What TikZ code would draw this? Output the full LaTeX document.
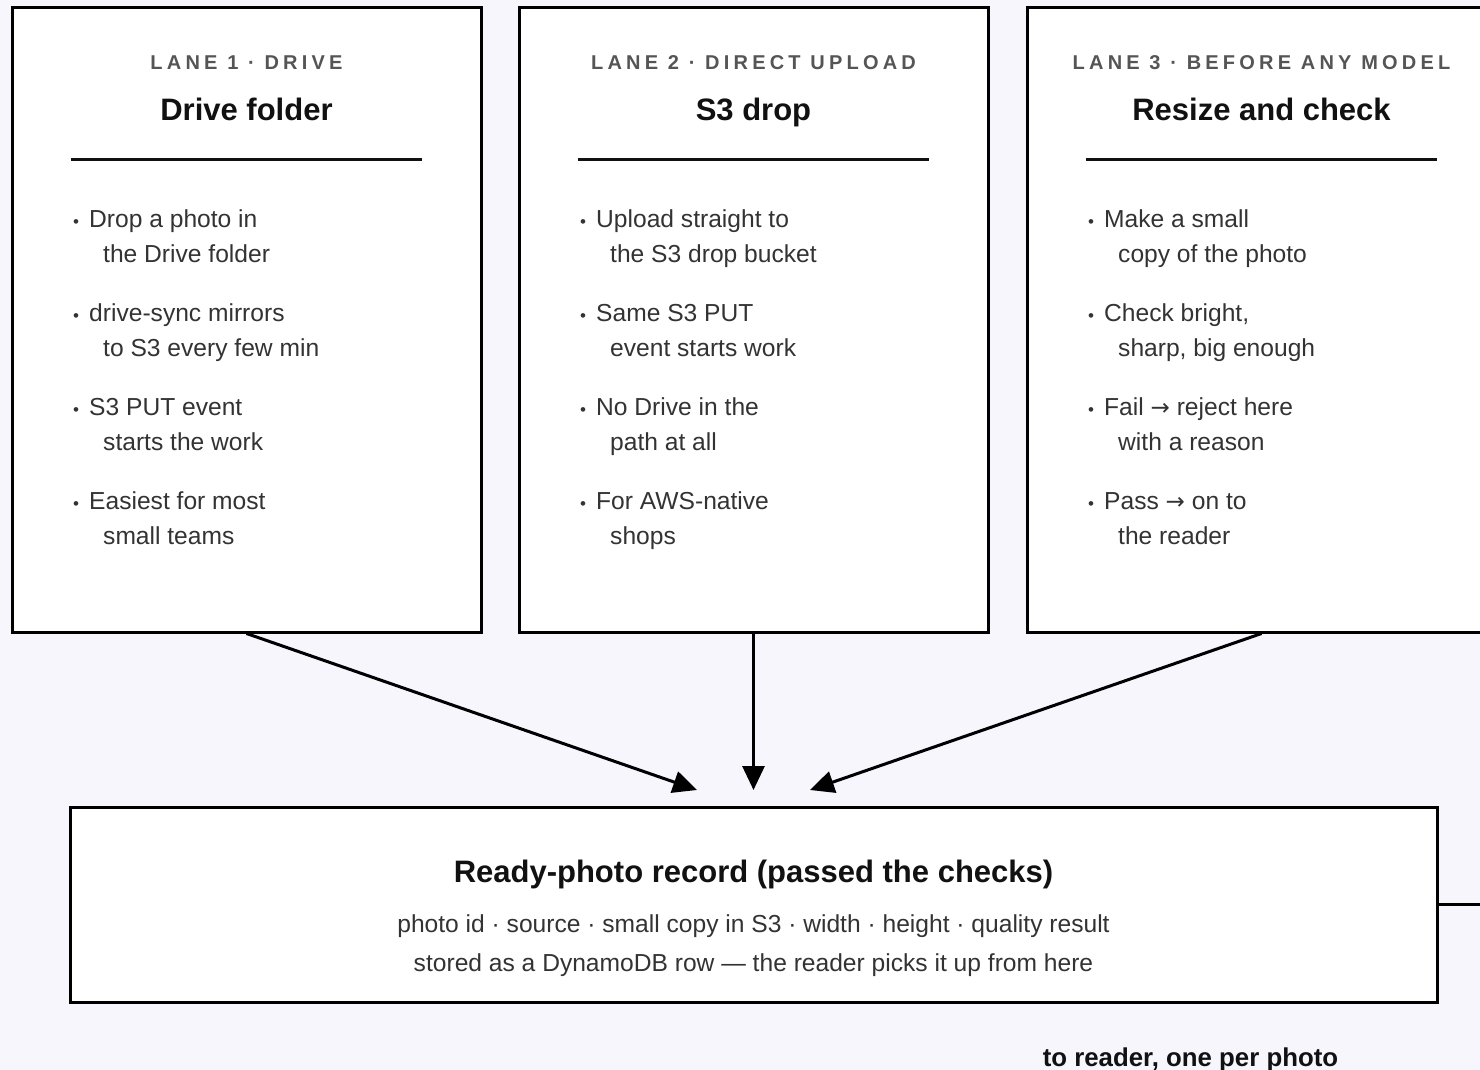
\documentclass[tikz,border=0pt]{standalone}
\usepackage{fontspec}
\setmainfont{Liberation Sans}
\newfontfamily\arrowfont{DejaVu Sans}
\newfontfamily\lanefont[LetterSpace=21]{Liberation Sans}
\usetikzlibrary{arrows.meta}
\definecolor{paper}{HTML}{F7F6FD}
\definecolor{lanegrey}{HTML}{555555}
\definecolor{bodytext}{HTML}{333333}
\definecolor{inktext}{HTML}{111111}
\newcommand\lanecap[1]{{\lanefont\bfseries\fontsize{20}{24}\selectfont #1}}
\newcommand\passarrow{{\arrowfont\fontsize{23}{28}\selectfont →}}

\begin{document}
\begin{tikzpicture}[x=1pt,y=-1pt,
	lane/.style={draw=black,line width=3pt,fill=white,minimum width=469pt,minimum height=624pt,inner sep=0pt},
	ready/.style={draw=black,line width=3pt,fill=white,minimum width=1367pt,minimum height=195pt,inner sep=0pt},
	head/.style={anchor=base,inner sep=0pt,text=lanegrey},
	ttl/.style={anchor=base,inner sep=0pt,text=inktext,font=\bfseries\fontsize{31}{36}\selectfont},
	bul/.style={anchor=base,inner sep=0pt,text=bodytext,font=\fontsize{17}{24}\selectfont},
	itm/.style={anchor=base west,inner sep=0pt,text=bodytext,font=\fontsize{24.6}{28}\selectfont},
	rec/.style={anchor=base,inner sep=0pt,text=bodytext,font=\fontsize{24.6}{28}\selectfont},
	rule/.style={line width=3pt,draw=inktext},
	flow/.style={line width=3pt,-{Triangle[length=24pt,width=22pt]}}]
	\fill[paper] (0,0) rectangle (1480,1070);
	\useasboundingbox (0,0) rectangle (1480,1070);
	\clip (0,0) rectangle (1480,1070);
	%
	% the three lanes
	\node[lane] (L1) at (246.5,320) {};
	\node[lane] (L2) at (753.5,320) {};
	\node[lane] (L3) at (1261.5,320) {};
	\node[ready] (R) at (753.5,904.5) {};
	%
	% lane 1
	\node[head] (h1) at (246.5,70) {\lanecap{LANE 1 · DRIVE}};
	\node[ttl] (t1) at (246.5,121) {Drive folder};
	\draw[rule] (71,159) -- (422,159);
	\node[bul] (b11) at (76,227) {•};
	\node[itm] (i11) at (89,227) {Drop a photo in};
	\node[itm] (j11) at (103,262) {the Drive folder};
	\node[bul] (b12) at (76,321) {•};
	\node[itm] (i12) at (89,321) {drive-sync mirrors};
	\node[itm] (j12) at (103,356) {to S3 every few min};
	\node[bul] (b13) at (76,415) {•};
	\node[itm] (i13) at (89,415) {S3 PUT event};
	\node[itm] (j13) at (103,450) {starts the work};
	\node[bul] (b14) at (76,509) {•};
	\node[itm] (i14) at (89,509) {Easiest for most};
	\node[itm] (j14) at (103,544) {small teams};
	%
	% lane 2
	\node[head] (h2) at (753.5,70) {\lanecap{LANE 2 · DIRECT UPLOAD}};
	\node[ttl] (t2) at (753.5,121) {S3 drop};
	\draw[rule] (578,159) -- (929,159);
	\node[bul] (b21) at (583,227) {•};
	\node[itm] (i21) at (596,227) {Upload straight to};
	\node[itm] (j21) at (610,262) {the S3 drop bucket};
	\node[bul] (b22) at (583,321) {•};
	\node[itm] (i22) at (596,321) {Same S3 PUT};
	\node[itm] (j22) at (610,356) {event starts work};
	\node[bul] (b23) at (583,415) {•};
	\node[itm] (i23) at (596,415) {No Drive in the};
	\node[itm] (j23) at (610,450) {path at all};
	\node[bul] (b24) at (583,509) {•};
	\node[itm] (i24) at (596,509) {For AWS-native};
	\node[itm] (j24) at (610,544) {shops};
	%
	% lane 3
	\node[head] (h3) at (1261.5,70) {\lanecap{LANE 3 · BEFORE ANY MODEL}};
	\node[ttl] (t3) at (1261.5,121) {Resize and check};
	\draw[rule] (1086,159) -- (1437,159);
	\node[bul] (b31) at (1091,227) {•};
	\node[itm] (i31) at (1104,227) {Make a small};
	\node[itm] (j31) at (1118,262) {copy of the photo};
	\node[bul] (b32) at (1091,321) {•};
	\node[itm] (i32) at (1104,321) {Check bright,};
	\node[itm] (j32) at (1118,356) {sharp, big enough};
	\node[bul] (b33) at (1091,415) {•};
	\node[itm] (i33) at (1104,415) {Fail \passarrow{} reject here};
	\node[itm] (j33) at (1118,450) {with a reason};
	\node[bul] (b34) at (1091,509) {•};
	\node[itm] (i34) at (1104,509) {Pass \passarrow{} on to};
	\node[itm] (j34) at (1118,544) {the reader};
	%
	% ready-photo record
	\node[ttl] (rt) at (753.5,882) {Ready-photo record (passed the checks)};
	\node[rec] (r1) at (753.5,932) {photo id · source · small copy in S3 · width · height · quality result};
	\node[rec] (r2) at (753.5,971) {stored as a DynamoDB row — the reader picks it up from here};
	\node[anchor=base,inner sep=0pt,text=inktext,font=\bfseries\fontsize{25.8}{30}\selectfont] (out) at (1190.5,1066) {to reader, one per photo};
	%
	\coordinate (e1) at (697,790);
	\coordinate (e2) at (753.5,790);
	\coordinate (e3) at (810,790);
	\coordinate (e4) at (1500,904.5);
	\path[flow]
	% into the record
	(L1.south) edge (e1)
	(L2.south) edge (e2)
	(L3.south) edge (e3);
	% on to the reader
	\draw[line width=3pt] (R.east) -- (e4);
\end{tikzpicture}
\end{document}
